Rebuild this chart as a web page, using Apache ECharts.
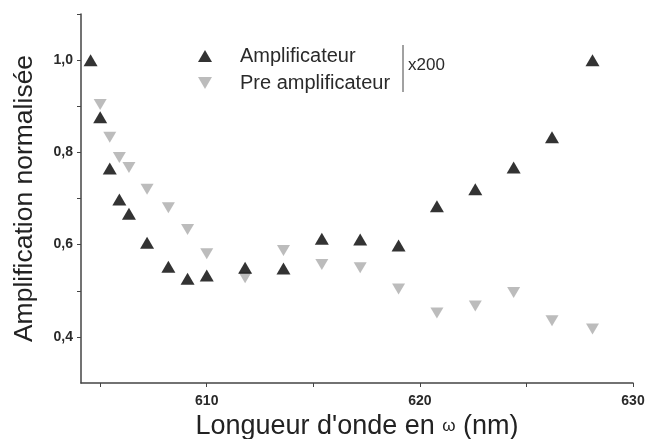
<!DOCTYPE html>
<html>
<head>
<meta charset="utf-8">
<script src="https://cdn.jsdelivr.net/npm/echarts@6/dist/echarts.min.js"></script>
<style>
  html, body { margin: 0; padding: 0; background: #fff; }
  #chart { width: 648px; height: 439px; }
</style>
</head>
<body>
<div id="chart"></div>
<script>
  const wavelength = [604.55, 605.0, 605.45, 605.9, 606.35, 607.2, 608.2, 609.1, 610.0, 611.8,
                      613.6, 615.4, 617.2, 619.0, 620.8, 622.6, 624.4, 626.2, 628.1];
  const ampli = [1.0, 0.876, 0.765, 0.698, 0.667, 0.604, 0.552, 0.526, 0.533, 0.55,
                 0.548, 0.613, 0.611, 0.598, 0.683, 0.72, 0.767, 0.833, 1.0];
  // pre-amplifier starts at the second wavelength
  const preAmpli = [null, 0.904, 0.833, 0.789, 0.767, 0.72, 0.68, 0.633, 0.58, 0.528,
                    0.587, 0.557, 0.55, 0.504, 0.452, 0.467, 0.496, 0.435, 0.417];
  const xTicks = [605, 610, 615, 620, 625, 630];
  const xLabels = [610, 620, 630];
  const yTicks = [0.4, 0.5, 0.6, 0.7, 0.8, 0.9, 1.0, 1.1];
  const yLabels = [0.4, 0.6, 0.8, 1.0];

  const font = "'Liberation Sans', Arial, sans-serif";
  const downTriangle = 'path://M0,0 L10,0 L5,8.6 Z';

  function pairs(ys) {
    return wavelength.map((x, i) => [x, ys[i]]).filter(p => p[1] !== null);
  }

  const chart = echarts.init(document.getElementById('chart'));
  chart.setOption({
    animation: false,
    backgroundColor: '#fff',
    grid: { left: 81, right: 15, top: 14, bottom: 56, outerBoundsMode: 'none' },
    legend: {
      orient: 'vertical',
      left: 193,
      top: 41,
      itemWidth: 14,
      itemHeight: 12,
      itemGap: 7,
      textStyle: { fontFamily: font, fontSize: 20, color: '#2a2a2a', padding: [0, 0, 0, 23] },
      data: ['Amplificateur', 'Pre amplificateur']
    },
    xAxis: {
      type: 'value',
      min: 604.1,
      max: 630,
      name: "Longueur d'onde en {w|ω} (nm)",
      nameLocation: 'middle',
      nameGap: 22,
      nameTextStyle: {
        fontFamily: font, fontSize: 27, color: '#222',
        rich: { w: { fontFamily: font, fontSize: 17, color: '#222' } }
      },
      splitLine: { show: false },
      axisLine: { lineStyle: { color: '#444', width: 1.5 } },
      axisTick: { show: true, inside: false, length: 4, customValues: xTicks, lineStyle: { color: '#444' } },
      axisLabel: {
        customValues: xLabels, margin: 11,
        fontFamily: font, fontSize: 14, fontWeight: 'bold', color: '#2a2a2a'
      }
    },
    yAxis: {
      type: 'value',
      min: 0.3,
      max: 1.1,
      name: 'Amplification normalisée',
      nameLocation: 'middle',
      nameGap: 43,
      nameTextStyle: { fontFamily: font, fontSize: 26.5, color: '#222' },
      splitLine: { show: false },
      axisLine: { show: true, lineStyle: { color: '#444', width: 1.5 } },
      axisTick: { show: true, inside: false, length: 4, customValues: yTicks, lineStyle: { color: '#444' } },
      axisLabel: {
        customValues: yLabels, margin: 8,
        fontFamily: font, fontSize: 14, fontWeight: 'bold', color: '#2a2a2a',
        formatter: v => v.toFixed(1).replace('.', ',')
      }
    },
    graphic: [
      { type: 'line', shape: { x1: 403, y1: 45, x2: 403, y2: 92 }, style: { stroke: '#444', lineWidth: 1 } },
      { type: 'text', left: 408, top: 57, style: { text: 'x200', fontFamily: font, fontSize: 17, fill: '#2a2a2a' } }
    ],
    series: [
      {
        name: 'Amplificateur',
        type: 'scatter',
        symbol: 'triangle',
        symbolSize: [14, 12],
        itemStyle: { color: '#000' },
        data: pairs(ampli),
        z: 3
      },
      {
        name: 'Pre amplificateur',
        type: 'scatter',
        symbol: downTriangle,
        symbolSize: [13, 11],
        itemStyle: { color: '#ababab' },
        data: pairs(preAmpli),
        z: 2
      }
    ]
  });
</script>
</body>
</html>
